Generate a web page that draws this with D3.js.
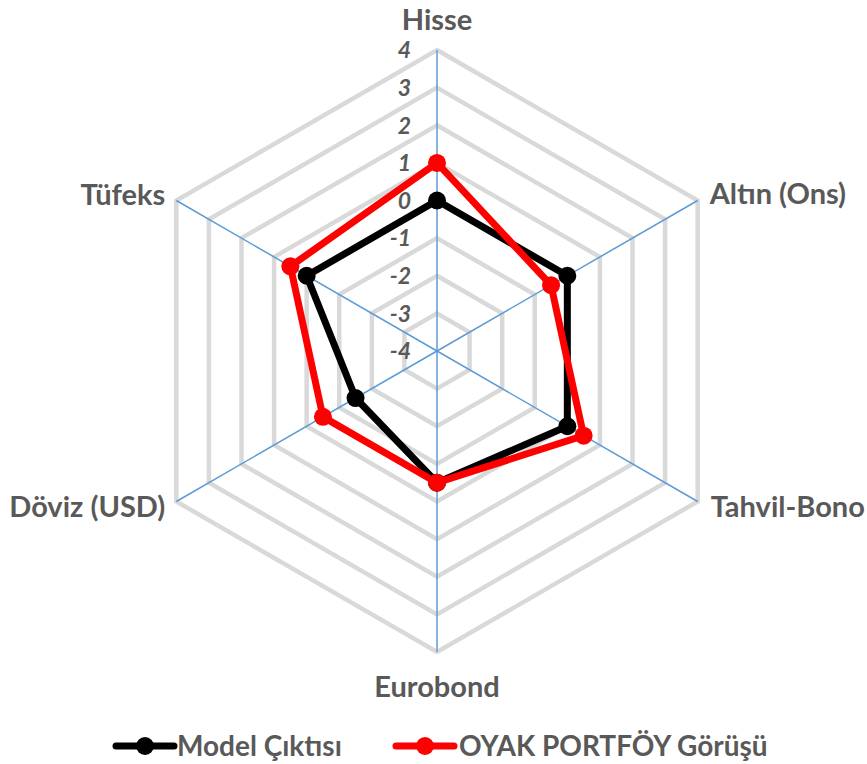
<!DOCTYPE html>
<html>
<head>
<meta charset="utf-8">
<script src="https://cdn.jsdelivr.net/npm/d3@7"></script>
<style>
  html, body { margin: 0; padding: 0; background: #fff; }
  svg { display: block; }
  text { font-family: Lato, "Open Sans", sans-serif; fill: #595959; }
</style>
</head>
<body>
<svg id="chart" width="867" height="764"></svg>
<script>
const categories = ["Hisse", "Altın (Ons)", "Tahvil-Bono", "Eurobond", "Döviz (USD)", "Tüfeks"];
const modelValues = [0, 0, 0, -0.5, -1.5, 0];
const oyakValues = [1, -0.5, 0.5, -0.5, -0.5, 0.5];
const tickValues = [-4, -3, -2, -1, 0, 1, 2, 3, 4];
const seriesNames = ["Model Çıktısı", "OYAK PORTFÖY Görüşü"];
const seriesColors = ["#000000", "#ff0000"];

const svg = d3.select("#chart");
const cx = 437, cy = 351, R = 301;
const r = d3.scaleLinear().domain([-4, 4]).range([0, R]);
const angle = d3.scaleLinear().domain([0, categories.length]).range([-Math.PI / 2, 1.5 * Math.PI]);
const pt = (i, v) => [cx + r(v) * Math.cos(angle(i)), cy + r(v) * Math.sin(angle(i))];

const g = svg.append("g");

// grid rings
tickValues.filter(t => t > -4).forEach(t => {
  const pts = categories.map((c, i) => pt(i, t));
  g.append("polygon")
    .attr("points", pts.map(p => p.join(",")).join(" "))
    .attr("fill", "none")
    .attr("stroke", "#d9d9d9")
    .attr("stroke-width", 4.5)
    .attr("stroke-linejoin", "miter");
});

// spokes
categories.forEach((c, i) => {
  const p = pt(i, 4);
  g.append("line")
    .attr("x1", cx).attr("y1", cy).attr("x2", p[0]).attr("y2", p[1])
    .attr("stroke", "#5b9bd5").attr("stroke-width", 1.5);
});

// tick labels
tickValues.forEach(t => {
  g.append("text")
    .attr("x", cx - 26)
    .attr("y", cy - r(t))
    .attr("dy", "0.36em")
    .attr("text-anchor", "end")
    .style("font-size", "23px")
    .style("font-weight", "bold")
    .style("font-style", "italic")
    .text(t);
});

// category labels
const labelCfg = [
  { dx: 0, dy: -20, anchor: "middle" },
  { dx: 12, dy: 3, anchor: "start" },
  { dx: 13, dy: 15, anchor: "start" },
  { dx: 0, dy: 45, anchor: "middle" },
  { dx: -11, dy: 15, anchor: "end" },
  { dx: -11, dy: 4, anchor: "end" }
];
categories.forEach((c, i) => {
  const p = pt(i, 4);
  g.append("text")
    .attr("x", p[0] + labelCfg[i].dx)
    .attr("y", p[1] + labelCfg[i].dy)
    .attr("text-anchor", labelCfg[i].anchor)
    .style("font-size", "29px")
    .style("font-weight", "bold")
    .text(c);
});

// series
const line = d3.lineRadial().angle((d, i) => angle(i) + Math.PI / 2).radius(d => r(d)).curve(d3.curveLinearClosed);
[modelValues, oyakValues].forEach((vals, s) => {
  const sg = g.append("g").attr("transform", `translate(${cx},${cy})`);
  sg.append("path")
    .attr("d", line(vals))
    .attr("fill", "none")
    .attr("stroke", seriesColors[s])
    .attr("stroke-width", 7)
    .attr("stroke-linejoin", "round");
  vals.forEach((v, i) => {
    const p = pt(i, v);
    g.append("circle")
      .attr("cx", p[0]).attr("cy", p[1]).attr("r", 9)
      .attr("fill", seriesColors[s]);
  });
});

// legend
const legendItems = [{ x: 116, textX: 177 }, { x: 396, textX: 459 }];
const ly = 746;
seriesNames.forEach((n, s) => {
  const lg = svg.append("g");
  const x0 = legendItems[s].x;
  lg.append("line")
    .attr("x1", x0).attr("x2", x0 + 58).attr("y1", ly).attr("y2", ly)
    .attr("stroke", seriesColors[s]).attr("stroke-width", 7).attr("stroke-linecap", "round");
  lg.append("circle").attr("cx", x0 + 29).attr("cy", ly).attr("r", 9).attr("fill", seriesColors[s]);
  lg.append("text")
    .attr("x", legendItems[s].textX).attr("y", ly).attr("dy", "0.36em")
    .style("font-size", "28px").style("font-weight", "bold")
    .text(n);
});
</script>
</body>
</html>
